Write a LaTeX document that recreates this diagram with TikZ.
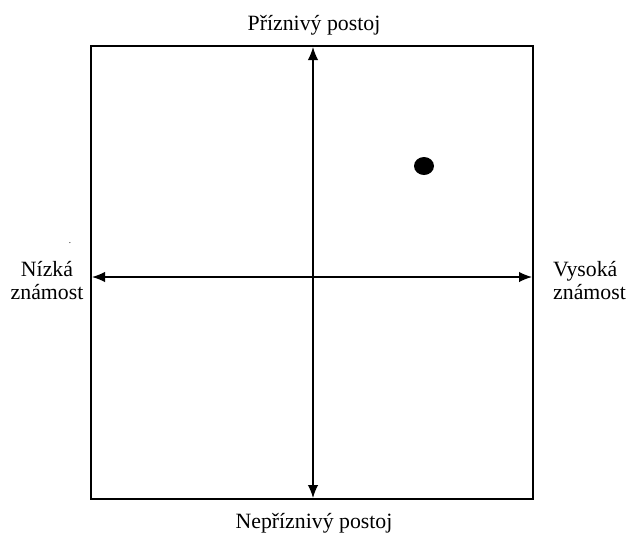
\documentclass[tikz,border=0pt]{standalone}
\usepackage{fontspec}
\setmainfont{Liberation Serif}
\usepackage{tikz}
\usetikzlibrary{arrows.meta,shapes.geometric}

\begin{document}
\begin{tikzpicture}[x=1pt, y=-1pt, >={Latex[length=13pt,width=10.5pt]},
  lbl/.style={font=\fontsize{21.8}{23}\selectfont, inner sep=0pt},
  axis/.style={<->, line width=1.4pt},
  frame/.style={draw, line width=1.3pt}]
\useasboundingbox (0,0) rectangle (627,533);
% frame and axes
\coordinate (nw) at (91,46);
\coordinate (se) at (533,499);
\draw[frame] (nw) rectangle (se);
\coordinate (top) at (313,47);
\coordinate (bot) at (313,498);
\coordinate (lft) at (92,277);
\coordinate (rgt) at (532,277);
\draw[axis] (bot) -- (top);
\draw[axis] (lft) -- (rgt);
% position
\node[ellipse, fill, minimum width=20pt, minimum height=18pt, inner sep=0pt] (pos) at (424,166) {};
% labels
\node[lbl, anchor=base] (fav) at (314,30) {Příznivý postoj};
\node[lbl, anchor=base] (unfav) at (314,528) {Nepříznivý postoj};
\node[lbl, align=center] (low) at (47,281) {Nízká\\známost};
\node[lbl, align=left, anchor=west] (high) at (553,281) {Vysoká\\známost};
\node[inner sep=0pt, font=\small] (spot) at (70,243) {.};
\end{tikzpicture}
\end{document}
